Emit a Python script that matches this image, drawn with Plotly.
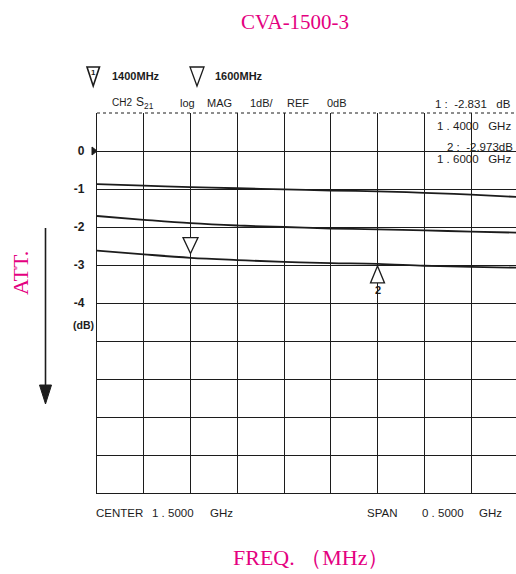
import plotly.graph_objects as go

# ---------------- data ----------------
freq_mhz = [1300, 1350, 1400, 1450, 1500, 1550, 1600, 1650, 1700, 1750]
trace_a = [-0.87, -0.91, -0.95, -0.98, -1.01, -1.04, -1.06, -1.10, -1.15, -1.21]
trace_b = [-1.71, -1.81, -1.90, -1.96, -2.00, -2.04, -2.06, -2.09, -2.12, -2.15]
trace_c = [-2.62, -2.72, -2.81, -2.87, -2.92, -2.95, -2.97, -3.02, -3.05, -3.07]
marker_freq = [1400, 1600]
marker_db = [-2.831, -2.973]
y_tick_vals = [0, -1, -2, -3, -4]
y_tick_text = ["<b>0</b>", "<b>-1</b>", "<b>-2</b>", "<b>-3</b>", "<b>-4</b>"]
x_tick_vals = [1300, 1350, 1400, 1450, 1500, 1550, 1600, 1650, 1700, 1750]

W, H = 516, 574
L, R, T, B = 97, 516, 113, 493          # plot area in window pixels
MAG = "#E4007F"
INK = "#1c1c1c"
SANS = "Liberation Sans, Arial, sans-serif"
SERIF = "Liberation Serif, Times New Roman, serif"


def px(x):
    return (x - L) / (R - L)


def py(y):
    return (B - y) / (B - T)


def path(pts):
    return "M" + " L".join(f"{px(x):.5f},{py(y):.5f}" for x, y in pts) + " Z"


fig = go.Figure()
for vals in (trace_a, trace_b, trace_c):
    fig.add_trace(go.Scatter(x=freq_mhz, y=vals, mode="lines",
                             line=dict(color=INK, width=1.8, shape="spline"),
                             hoverinfo="skip", showlegend=False))

shapes = []
# top border (dotted)
shapes.append(dict(type="line", xref="paper", yref="paper", x0=0, x1=1, y0=1, y1=1,
                   line=dict(color=INK, width=1.2, dash="dot")))
# reference marker on the left axis at 0 dB
shapes.append(dict(type="path", xref="paper", yref="y", xsizemode="pixel", ysizemode="pixel",
                   xanchor=0, yanchor=0, path="M-5,4 L0,0 L-5,-4 Z",
                   fillcolor=INK, line=dict(color=INK, width=1)))
# marker 1 (down triangle above the trace)
shapes.append(dict(type="path", xref="x", yref="y", xsizemode="pixel", ysizemode="pixel",
                   xanchor=marker_freq[0], yanchor=marker_db[0],
                   path="M-7.5,21 L7.5,21 L0,5 Z",
                   fillcolor="white", line=dict(color=INK, width=1.3)))
# marker 2 (up triangle below the trace)
shapes.append(dict(type="path", xref="x", yref="y", xsizemode="pixel", ysizemode="pixel",
                   xanchor=marker_freq[1], yanchor=marker_db[1],
                   path="M0,-2 L-7,-19 L7,-19 Z",
                   fillcolor="white", line=dict(color=INK, width=1.3)))
# legend triangles
shapes.append(dict(type="path", xref="paper", yref="paper",
                   path=path([(87, 67), (99.5, 67), (93.2, 86)]),
                   fillcolor="white", line=dict(color=INK, width=1.6)))
shapes.append(dict(type="path", xref="paper", yref="paper",
                   path=path([(190, 67), (204, 67), (197, 86)]),
                   fillcolor="white", line=dict(color=INK, width=1.3)))
# ATT arrow
shapes.append(dict(type="line", xref="paper", yref="paper",
                   x0=px(45.5), x1=px(45.5), y0=py(228), y1=py(392),
                   line=dict(color=INK, width=1.6)))
shapes.append(dict(type="path", xref="paper", yref="paper",
                   path=path([(39.5, 385), (51.5, 385), (45.5, 404)]),
                   fillcolor=INK, line=dict(color=INK, width=1)))

ann = []


def txt(x, y, s, size=11, xanchor="left", font=SANS, color=INK, **kw):
    ann.append(dict(x=px(x), y=py(y), xref="paper", yref="paper", text=s,
                    showarrow=False, xanchor=xanchor, yanchor="middle",
                    font=dict(family=font, size=size, color=color), **kw))


# titles (magenta)
txt(295, 22, "CVA-1500-3", size=21, xanchor="center", font=SERIF, color=MAG)
txt(311, 557, "FREQ. （MHz）", size=22, xanchor="center", font=SERIF, color=MAG)
txt(20, 273, "ATT.", size=22, xanchor="center", font=SERIF, color=MAG, textangle=-90)

# legend row
txt(93.2, 73, "<b>1</b>", size=8, xanchor="center")
txt(110, 76, "<b>1400MHz</b>", size=11)
txt(213, 76, "<b>1600MHz</b>", size=11)

# header row
txt(110, 103, "CH2", size=10)
txt(134, 103, "S<sub>21</sub>", size=12)
txt(178, 103, "log", size=11)
txt(205, 103, "MAG", size=11)
txt(248, 103, "1dB/", size=11)
txt(285, 103, "REF", size=11)
txt(325, 103, "0dB", size=11)

# marker readouts
txt(513, 104, "1 :  -2.831   dB", size=11.5, xanchor="right")
txt(513, 126, "1 . 4000   GHz", size=11.5, xanchor="right")
txt(515, 147, "2 :  -2.973dB", size=11.5, xanchor="right")
txt(513, 159, "1 . 6000   GHz", size=11.5, xanchor="right")

# unit under ticks
txt(96, 325, "<b>(dB)</b>", size=10.5, xanchor="right")

# footer
txt(94, 513, "CENTER", size=11.5)
txt(150, 513, "1 . 5000", size=11.5)
txt(208, 513, "GHz", size=11.5)
txt(365, 513, "SPAN", size=11.5)
txt(420, 513, "0 . 5000", size=11.5)
txt(477, 513, "GHz", size=11.5)

# marker 2 label
ann.append(dict(x=marker_freq[1], y=marker_db[1], xref="x", yref="y", text="<b>2</b>",
                showarrow=False, yshift=-26, font=dict(family=SANS, size=11, color=INK)))

fig.update_layout(
    width=W, height=H,
    margin=dict(l=L, r=W - R, t=T, b=H - B, pad=0),
    paper_bgcolor="white", plot_bgcolor="white",
    shapes=shapes, annotations=ann, showlegend=False,
    xaxis=dict(range=[1300, 1300 + (R - L) / 46.75 * 50], tickvals=x_tick_vals,
               showticklabels=False, showgrid=True, gridcolor=INK, gridwidth=1.2,
               zeroline=False, showline=True, linecolor=INK, linewidth=1.4, ticks=""),
    yaxis=dict(range=[-9, 1], tickvals=y_tick_vals, ticktext=y_tick_text,
               showgrid=True, gridcolor=INK, gridwidth=1.2, zeroline=False,
               minor=dict(dtick=1, tick0=0, showgrid=True, gridcolor=INK, gridwidth=1.2, ticks=""),
               showline=True, linecolor=INK, linewidth=1.4, ticks="",
               ticklabelstandoff=9,
               tickfont=dict(family=SANS, size=12, color=INK)),
)

# remove the browser's default 8px page margin so the figure fills the window exactly
fig.write_html("out.html", config={"displayModeBar": False},
               post_script="document.body.style.margin='0px';document.body.style.overflow='hidden';")
